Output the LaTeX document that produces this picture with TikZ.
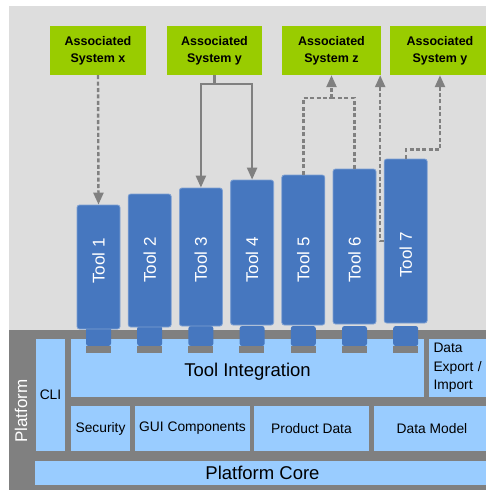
\documentclass[tikz,border=0pt]{standalone}
\usepackage{fontspec}
\setmainfont{Liberation Sans}
\usepackage[x11names, svgnames]{xcolor}
\definecolor{BackGrey}{RGB}{221,221,221}
\definecolor{PlatGrey}{RGB}{128,128,128}
\definecolor{AssocGreen}{RGB}{153,204,0}
\definecolor{ToolBlue}{RGB}{70,119,191}
\definecolor{LayerBlue}{RGB}{153,204,255}
\usepackage{tikz}
\usetikzlibrary{arrows.meta, calc}

\begin{document}
\begin{tikzpicture}[x=1pt, y=-1pt,
	assoc/.style={fill=AssocGreen, minimum height=49pt, inner sep=0pt, align=center, font=\fontsize{12.5}{17}\selectfont\bfseries},
	tool/.style={fill=ToolBlue, draw=ToolBlue!70!white, line width=0.8pt, rounded corners=2.5pt, minimum width=43pt, inner sep=0pt},
	tooltext/.style={rotate=90, text=white, font=\fontsize{17}{20}\selectfont, inner sep=0pt},
	plug/.style={fill=ToolBlue, rounded corners=2.5pt, minimum width=25pt, minimum height=20pt, inner sep=0pt},
	layerbox/.style={fill=LayerBlue, inner sep=0pt, font=\fontsize{13.8}{18.5}\selectfont},
	bigtext/.style={inner sep=0pt, font=\fontsize{18.5}{22}\selectfont},
	link/.style={draw=PlatGrey, line width=2.4pt},
	dashlink/.style={link, dash pattern=on 4pt off 2.4pt},
	arrowtip/.style={-{Triangle[length=12pt, width=10pt]}}
]

	\useasboundingbox (0,0) rectangle (485,490);
	\fill[BackGrey] (9,6) rectangle (490,330);
	\fill[PlatGrey] (9,330) rectangle (490,495);

	% associated systems
	\node[assoc, minimum width=96pt] (asx) at (98,50.5) {Associated\\System x};
	\node[assoc, minimum width=95pt] (asy) at (214.5,50.5) {Associated\\System y};
	\node[assoc, minimum width=99pt] (asz) at (331.5,50.5) {Associated\\System z};
	\node[assoc, minimum width=100pt] (asy2) at (440,50.5) {Associated\\System y};

	% platform layers
	\node[layerbox, minimum width=29pt, minimum height=112pt] (cli) at (50.5,395) {CLI};
	\node[layerbox, minimum width=353pt, minimum height=58pt, label={[bigtext, yshift=-4pt]center:Tool Integration}] (integ) at (247.5,368) {};
	\node[layerbox, minimum width=61pt, minimum height=58pt, text width=52pt, align=left] (export) at (459.5,368) {Data\\Export /\\Import};
	\node[layerbox, minimum width=59pt, minimum height=45pt] (sec) at (100.5,428.5) {Security};
	\node[layerbox, minimum width=115pt, minimum height=45pt] (gui) at (192.5,428.5) {GUI Components};
	\node[layerbox, minimum width=115pt, minimum height=45pt] (prod) at (311.5,428.5) {Product Data};
	\node[layerbox, minimum width=116pt, minimum height=45pt] (model) at (432,428.5) {Data Model};
	\node[layerbox, minimum width=455pt, minimum height=24pt, font=\fontsize{18.5}{22}\selectfont] (core) at (262.5,473) {Platform Core};
	\node[tooltext] (plat) at (21,411) {Platform};

	% tools with their plugs
	\foreach \i/\ytop/\ybot/\ylab in {1/205/329/261, 2/194/327/260, 3/188/326/260, 4/180/325/260, 5/175/325/260, 6/169/324/260, 7/159/323/255}{
		\pgfmathsetmacro{\cx}{98.5+51.2*(\i-1)}
		\node[plug] (p\i) at (\cx,336) {};
		\fill[PlatGrey] (p\i.south west) rectangle ++(25,7);
		\node[tool, minimum height={\ybot-\ytop}] (t\i) at (\cx,{(\ytop+\ybot)/2}) {};
		\node[tooltext] (l\i) at (\cx,\ylab) {Tool \i};
	}

	\draw[dashlink, arrowtip] (asx.south) -- (t1.north);

	\coordinate (yfork) at ($(asy.south)+(0,9)$);
	\draw[link] (asy.south) -- (yfork);
	\draw[link, arrowtip] (yfork) -| (t3.north);
	\draw[link, arrowtip] (yfork) -| (t4.north);

	\coordinate (zjoin) at ($(asz.south)+(0,23)$);
	\draw[dashlink] (t5.north) |- (zjoin);
	\draw[dashlink] (t6.north) |- (zjoin);
	\draw[dashlink, arrowtip] (zjoin) -- (asz.south);
	\draw[dashlink, arrowtip] (t7.west) -| ($(asz.south east)+(-1,0)$);

	\coordinate (ybend) at ($(t7.north)+(0,-9)$);
	\draw[dashlink, arrowtip] (t7.north) -- (ybend) -| (asy2.south);

\end{tikzpicture}
\end{document}
